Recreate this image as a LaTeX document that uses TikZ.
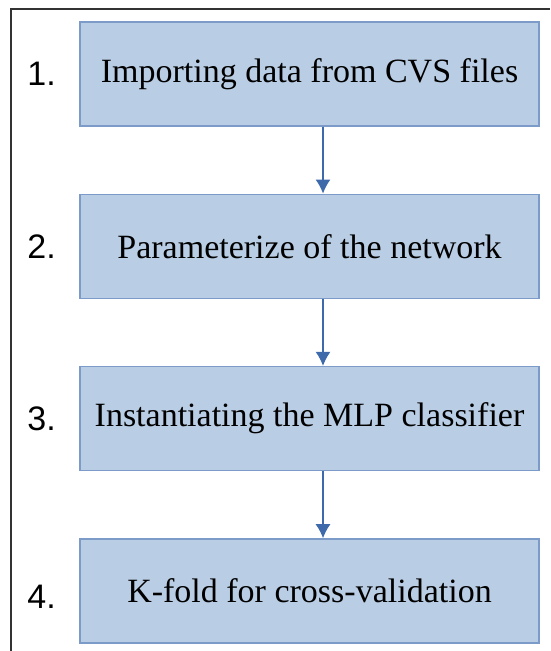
\documentclass[tikz,border=0pt]{standalone}
\usepackage{fontspec}
\setmainfont{Liberation Serif}
\newfontfamily\numfont{Liberation Sans}
\usetikzlibrary{arrows.meta, positioning}

\definecolor{boxfill}{RGB}{185,205,228}
\definecolor{boxline}{RGB}{124,155,200}
\definecolor{arrowcol}{RGB}{62,106,172}

\begin{document}
\begin{tikzpicture}[x=0.5pt, y=-0.5pt, node distance={33.4pt},
        stepbox/.style = {draw=boxline, fill=boxfill, line width=0.75pt,
            minimum width=229.5pt, minimum height=52pt, inner sep=0pt,
            font=\fontsize{17}{20}\selectfont},
        num/.style = {inner sep=0pt, font=\numfont\fontsize{17}{20}\selectfont},
        flow/.style = {-{Latex[length=7pt, width=7.5pt]}, draw=arrowcol, fill=arrowcol, line width=0.6pt}]
            \useasboundingbox (0,0) rectangle (550,651);
            % frame
            \draw[line width=0.6pt, black!80] (11,651) -- (11,9) -- (550,9);

            \node[stepbox] (s1) at (309.5,74) {Importing data from CVS files};
            \node[stepbox] (s2) [below=of s1] {Parameterize of the network};
            \node[stepbox] (s3) [below=of s2] {Instantiating the MLP classifier};
            \node[stepbox] (s4) [below=of s3] {K-fold for cross-validation};

            \node[num] (n1) [left=11.5pt of s1] {1.};
            \node[num] (n2) [left=11.5pt of s2] {2.};
            \node[num] (n3) [left=11.5pt of s3] {3.};
            \node[num] (n4) [left=11.5pt of s4, yshift=-3pt] {4.};

            \draw[flow] ([xshift=6.75pt]s1.south) -- ([xshift=6.75pt]s2.north);
            \draw[flow] ([xshift=6.75pt]s2.south) -- ([xshift=6.75pt]s3.north);
            \draw[flow] ([xshift=6.75pt]s3.south) -- ([xshift=6.75pt]s4.north);
        \end{tikzpicture}
\end{document}
